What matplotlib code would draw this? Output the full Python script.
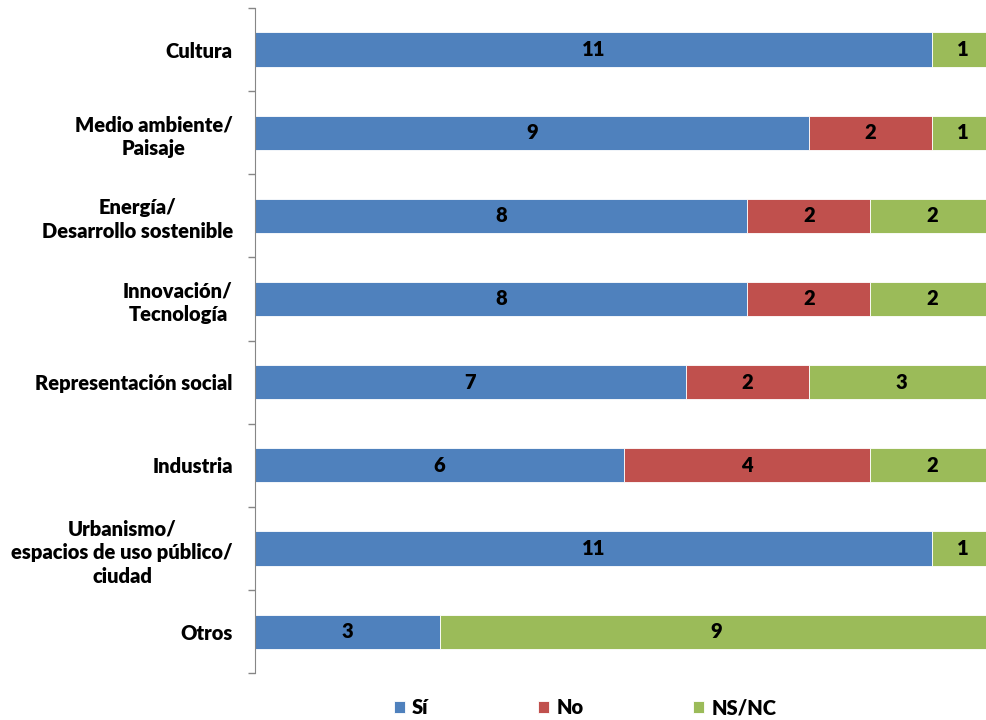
import numpy as np
import matplotlib.pyplot as plt

plt.rcParams['font.family'] = ['Lato', 'DejaVu Sans']

categories = ['Cultura', 'Medio ambiente/\nPaisaje', 'Energía/\nDesarrollo sostenible',
              'Innovación/\nTecnología', 'Representación social', 'Industria',
              'Urbanismo/\nespacios de uso público/\nciudad', 'Otros']
si = [11, 9, 8, 8, 7, 6, 11, 3]
no = [0, 2, 2, 2, 2, 4, 0, 0]
nsnc = [1, 1, 2, 2, 3, 2, 1, 9]
series = ['Sí', 'No', 'NS/NC']
colors = ['#4F81BD', '#C0504D', '#9BBB59']

fs = 14.5
fig = plt.figure(figsize=(9.87, 7.2), dpi=100)
ax = fig.add_axes([0.2584, 0.065, 0.7482, 0.924])

y = np.arange(len(categories))
left = np.zeros(len(categories))
for vals, name, c in zip([si, no, nsnc], series, colors):
    vals = np.array(vals, dtype=float)
    ax.barh(y, vals, left=left, height=0.41, color=c, edgecolor='white',
            linewidth=0.6, label=name)
    for yi, l, v in zip(y, left, vals):
        if v > 0:
            ax.text(l + v / 2, yi, f'{int(v)}', ha='center', va='center',
                    fontsize=fs, fontweight='heavy', color='black')
    left += vals

ax.set_xlim(0, 12)
ax.set_ylim(len(categories) - 0.5, -0.5)
ax.set_yticks(y)
ax.set_yticklabels(categories, fontsize=fs, fontweight='heavy', multialignment='center',
                   linespacing=1.3)
ax.set_yticks(np.arange(-0.5, len(categories)), minor=True)
ax.tick_params(axis='y', which='major', length=0, pad=16)
ax.tick_params(axis='y', which='minor', length=5, color='#868686', width=1)
ax.set_xticks([])
for s in ['top', 'right', 'bottom']:
    ax.spines[s].set_visible(False)
ax.spines['left'].set_color('#868686')

fig.legend(loc='center', bbox_to_anchor=(0.593, 0.017), ncol=3, frameon=False,
           handlelength=0.55, handleheight=0.55, handletextpad=0.35, columnspacing=5.45,
           prop={'weight': 'heavy', 'size': fs})

fig.savefig('out.png', dpi=100)
